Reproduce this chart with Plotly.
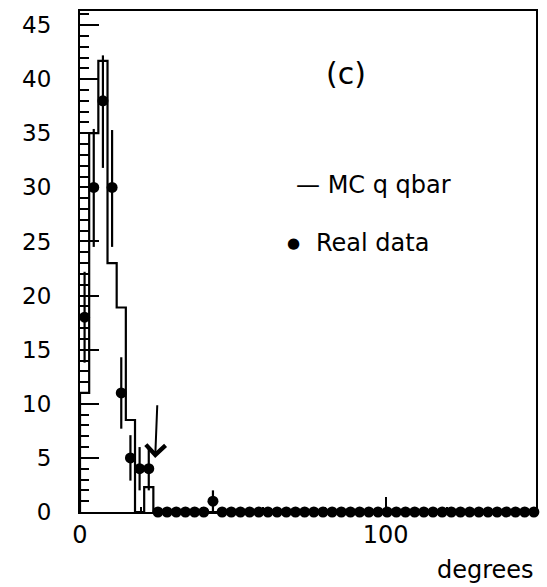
import plotly.graph_objects as go

# ---- data ----
bin_edges = [0, 3, 6, 9, 12, 15, 18, 21, 24, 27, 30, 33, 36, 39, 42, 45, 48, 51, 54, 57,
             60, 63, 66, 69, 72, 75, 78, 81, 84, 87, 90, 93, 96, 99, 102, 105, 108, 111,
             114, 117, 120, 123, 126, 129, 132, 135, 138, 141, 144, 147, 150]
bin_centers = [(a + b) / 2 for a, b in zip(bin_edges[:-1], bin_edges[1:])]

mc_qqbar = [11, 35, 41.7, 23, 18.9, 8.5, 0, 2.3, 0, 0,
            0, 0, 0, 0, 0, 0, 0, 0, 0, 0,
            0, 0, 0, 0, 0, 0, 0, 0, 0, 0,
            0, 0, 0, 0, 0, 0, 0, 0, 0, 0,
            0, 0, 0, 0, 0, 0, 0, 0, 0, 0]

real_data = [18, 30, 38, 30, 11, 5, 4, 4, 0, 0,
             0, 0, 0, 0, 1, 0, 0, 0, 0, 0,
             0, 0, 0, 0, 0, 0, 0, 0, 0, 0,
             0, 0, 0, 0, 0, 0, 0, 0, 0, 0,
             0, 0, 0, 0, 0, 0, 0, 0, 0, 0]

err_up = [4.2, 5.4, 4.2, 5.3, 3.3, 2.1, 2.0, 2.0, 0, 0,
          0, 0, 0, 0, 1.0, 0, 0, 0, 0, 0,
          0, 0, 0, 0, 0, 0, 0, 0, 0, 0,
          0, 0, 0, 0, 0, 0, 0, 0, 0, 0,
          0, 0, 0, 0, 0, 0, 0, 0, 0, 0]
err_down = [4.2, 5.5, 6.2, 5.5, 3.3, 2.1, 2.0, 2.0, 0, 0,
            0, 0, 0, 0, 1.0, 0, 0, 0, 0, 0,
            0, 0, 0, 0, 0, 0, 0, 0, 0, 0,
            0, 0, 0, 0, 0, 0, 0, 0, 0, 0,
            0, 0, 0, 0, 0, 0, 0, 0, 0, 0]

x_ticks = [0, 100]
x_tick_labels = ["0", "100"]
cut_arrow = dict(tip_x=24.6, tip_y=5.0, tail_x=25.3, tail_y=10.0)

FONT = "DejaVu Sans"

fig = go.Figure()

# MC histogram as a step outline
step_x = [bin_edges[0]] + bin_edges[:-1] + [bin_edges[-1]]
step_y = [0] + mc_qqbar + [mc_qqbar[-1]]
fig.add_trace(go.Scatter(
    x=step_x, y=step_y, mode="lines", line_shape="hv",
    line=dict(color="black", width=2.2), name="MC q qbar", hoverinfo="skip"))

# Real data points with error bars
fig.add_trace(go.Scatter(
    x=bin_centers, y=real_data, mode="markers",
    marker=dict(symbol="circle", size=11, color="black"),
    error_y=dict(type="data", symmetric=False, array=err_up, arrayminus=err_down,
                 color="black", thickness=2.2, width=0),
    cliponaxis=False, name="Real data"))

fig.update_layout(
    width=547, height=587,
    margin=dict(l=80, r=9, t=10, b=75),
    paper_bgcolor="white", plot_bgcolor="white",
    showlegend=False,
    font=dict(family=FONT, size=22, color="black"),
)

fig.update_xaxes(
    range=[0, 149.2], showgrid=False, zeroline=False,
    showline=True, linecolor="black", linewidth=2.2, mirror=True,
    ticks="inside", tickvals=x_ticks, ticktext=x_tick_labels,
    ticklen=15, tickwidth=1.5, tickcolor="black",
    tickfont=dict(size=24, family=FONT),
    ticklabelstandoff=0,
    minor=dict(dtick=20, tick0=0, ticks="inside", ticklen=5, tickwidth=1.5,
               tickcolor="black", showgrid=False),
)
fig.update_yaxes(
    range=[0, 46.3], showgrid=False, zeroline=False,
    showline=True, linecolor="black", linewidth=2.2, mirror=True,
    ticks="inside", tick0=0, dtick=5,
    ticklen=19, tickwidth=1.5, tickcolor="black",
    tickfont=dict(size=23, family=FONT),
    ticklabelstandoff=22,
    minor=dict(dtick=1, tick0=0, ticks="inside", ticklen=9, tickwidth=1.5,
               tickcolor="black", showgrid=False),
)

# cut arrow
fig.add_annotation(
    x=cut_arrow["tip_x"], y=cut_arrow["tip_y"],
    ax=cut_arrow["tail_x"], ay=cut_arrow["tail_y"],
    xref="x", yref="y", axref="x", ayref="y",
    text="", showarrow=True, arrowhead=4, arrowsize=1.9, arrowwidth=2,
    arrowcolor="black")

# panel label and legend text
fig.add_annotation(x=87, y=40.5, xref="x", yref="y", text="(c)",
                   showarrow=False, font=dict(size=30, family=FONT))
fig.add_annotation(x=70, y=30.2, xref="x", yref="y", xanchor="left",
                   text="— MC q qbar", showarrow=False,
                   font=dict(size=24, family=FONT))
fig.add_annotation(x=70.0, y=24.9, xref="x", yref="y", xanchor="center",
                   yanchor="middle", text="●", showarrow=False,
                   font=dict(size=15, family=FONT))
fig.add_annotation(x=76.6, y=24.9, xref="x", yref="y", xanchor="left",
                   yanchor="middle", text="Real data", showarrow=False,
                   font=dict(size=24, family=FONT))

# axis title
fig.add_annotation(x=1, y=0, xref="paper", yref="paper",
                   xanchor="right", yanchor="top", yshift=-42,
                   text="degrees", showarrow=False,
                   font=dict(size=24, family=FONT))

fig.write_html("out.html")
